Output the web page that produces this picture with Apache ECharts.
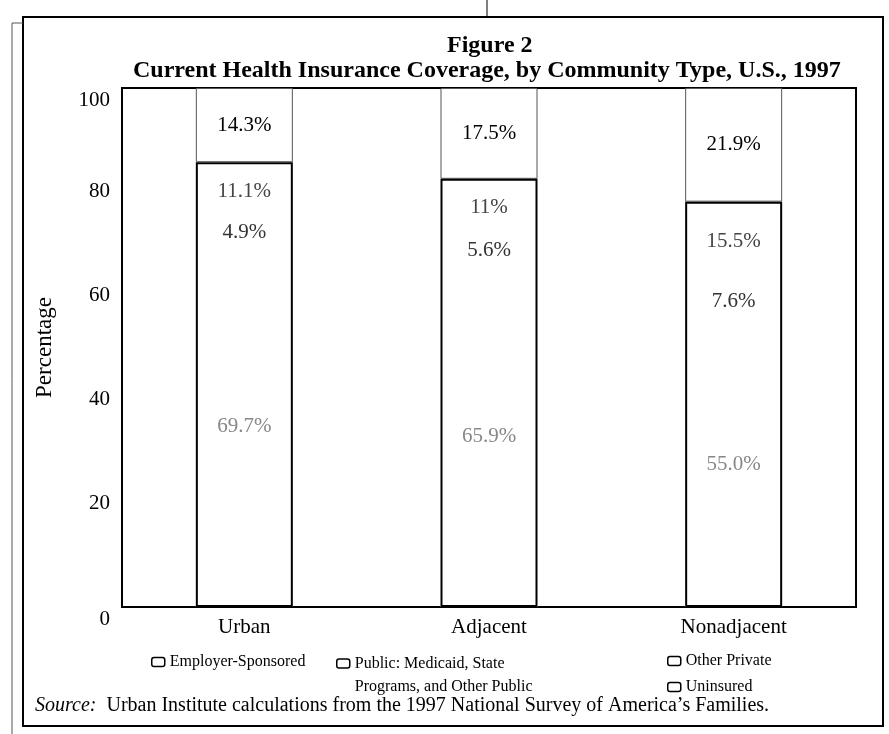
<!DOCTYPE html>
<html>
<head>
<meta charset="utf-8">
<title>Figure 2</title>
<script src="https://cdn.jsdelivr.net/npm/echarts@6/dist/echarts.min.js"></script>
<style>
  html, body { margin: 0; padding: 0; background: #fff; }
  #chart { width: 889px; height: 734px; }
</style>
</head>
<body>
<div id="chart"></div>
<script>
// data
var categories = ['Urban', 'Adjacent', 'Nonadjacent'];
var employer = [69.7, 65.9, 55.0];
var publicCov = [11.1, 11, 15.5];
var otherPrivate = [4.9, 5.6, 7.6];
var uninsured = [14.3, 17.5, 21.9];
var yTicks = [0, 20, 40, 60, 80, 100];

var publicName = 'Public: Medicaid, State Programs, and Other Public';

// outline of the insured block (no inner lines in the original)
var insured = employer.map(function (v, i) { return v + otherPrivate[i] + publicCov[i]; });

var serif = "'Liberation Serif', 'DejaVu Serif', serif";

var dom = document.getElementById('chart');
var myChart = echarts.init(dom);

function segment(name, data, labelColor, fmt) {
    return {
        name: name,
        type: 'bar',
        stack: 'total',
        barWidth: 97,
        data: data,
        itemStyle: { color: '#fff', borderWidth: 0 },
        label: {
            show: true,
            position: 'inside',
            color: labelColor,
            fontFamily: serif,
            fontSize: 21,
            formatter: function (p) { return fmt(p.value) + '%'; }
        },
        emphasis: { disabled: true }
    };
}
function fixed1(v) { return v.toFixed(1); }
function asIs(v) { return String(v); }

var unins = segment('Uninsured', uninsured, '#000', fixed1);
unins.itemStyle = { color: '#fff', borderColor: '#555', borderWidth: 1 };

var legendText = { fontFamily: serif, fontSize: 16, color: '#000' };
var legendItem = { color: '#fff', borderColor: '#000', borderWidth: 1.5 };

var option = {
    animation: false,
    backgroundColor: '#fff',
    title: [{
        text: 'Figure 2',
        left: 442,
        top: 29,
        textStyle: { fontFamily: serif, fontWeight: 'bold', fontSize: 24, color: '#000' }
    }, {
        text: 'Current Health Insurance Coverage, by Community Type, U.S., 1997',
        left: 128,
        top: 54,
        textStyle: { fontFamily: serif, fontWeight: 'bold', fontSize: 24, color: '#000' }
    }],
    grid: {
        left: 122,
        right: 33,
        top: 88,
        bottom: 127,
        show: true,
        borderColor: '#000',
        borderWidth: 2,
        outerBoundsMode: 'none'
    },
    legend: [{
        data: ['Employer-Sponsored'],
        left: 146,
        top: 649,
        icon: 'roundRect',
        itemWidth: 13,
        itemHeight: 9,
        itemStyle: legendItem,
        textStyle: legendText
    }, {
        data: [publicName],
        left: 331,
        top: 624,
        icon: 'roundRect',
        itemWidth: 13,
        itemHeight: 9,
        itemStyle: legendItem,
        // blank first line keeps the icon level with the first text line
        formatter: function () { return ' \nPublic: Medicaid, State\nPrograms, and Other Public'; },
        textStyle: { fontFamily: serif, fontSize: 16, color: '#000', lineHeight: 23 }
    }, {
        data: ['Other Private', 'Uninsured'],
        orient: 'vertical',
        left: 662,
        top: 648,
        itemGap: 10,
        icon: 'roundRect',
        itemWidth: 13,
        itemHeight: 9,
        itemStyle: legendItem,
        textStyle: legendText
    }],
    xAxis: {
        type: 'category',
        data: categories,
        axisTick: { show: false },
        axisLine: { lineStyle: { color: '#000', width: 2 } },
        axisLabel: { margin: 10, color: '#000', fontFamily: serif, fontSize: 21 }
    },
    yAxis: {
        type: 'value',
        min: yTicks[0],
        max: yTicks[yTicks.length - 1],
        interval: yTicks[1] - yTicks[0],
        name: 'Percentage',
        nameLocation: 'middle',
        nameGap: 66,
        nameTextStyle: { fontFamily: serif, fontSize: 23, color: '#000' },
        splitLine: { show: false },
        axisTick: { show: false },
        axisLine: { show: true, lineStyle: { color: '#000', width: 2 } },
        axisLabel: {
            margin: 12,
            color: '#000',
            fontFamily: serif,
            fontSize: 21,
            // end labels sit a little below their ticks in the original
            formatter: function (v) {
                return (v === yTicks[0] || v === yTicks[yTicks.length - 1]) ? '{low|' + v + '}' : String(v);
            },
            rich: { low: { fontFamily: serif, fontSize: 21, color: '#000', padding: [24, 0, 0, 0] } }
        }
    },
    series: [
        segment('Employer-Sponsored', employer, '#888', fixed1),
        segment('Other Private', otherPrivate, '#333', fixed1),
        segment(publicName, publicCov, '#444', asIs),
        unins,
        {
            // outline of the lower block
            name: 'Insured',
            type: 'bar',
            barWidth: 97,
            barGap: '-100%',
            z: 3,
            silent: true,
            data: insured,
            itemStyle: { color: 'rgba(0,0,0,0)', borderColor: '#000', borderWidth: 2 }
        }
    ],
    graphic: [
        // page frame
        { type: 'rect', shape: { x: 23, y: 17, width: 860, height: 709 }, style: { fill: null, stroke: '#000', lineWidth: 2 }, silent: true },
        { type: 'polyline', shape: { points: [[23, 23], [12, 23], [12, 734]] }, style: { fill: null, stroke: '#555', lineWidth: 1 }, silent: true },
        { type: 'line', shape: { x1: 487, y1: 0, x2: 487, y2: 17 }, style: { stroke: '#000', lineWidth: 1 }, silent: true },
        {
            type: 'text',
            left: 35,
            top: 696,
            style: {
                text: '{i|Source:}  Urban Institute calculations from the 1997 National Survey of America\u2019s Families.',
                fontFamily: serif,
                fontSize: 20,
                fill: '#000',
                rich: { i: { fontFamily: serif, fontSize: 20, fontStyle: 'italic' } }
            }
        }
    ]
};

if (option && typeof option === 'object') {
    myChart.setOption(option, true);
}
</script>
</body>
</html>
